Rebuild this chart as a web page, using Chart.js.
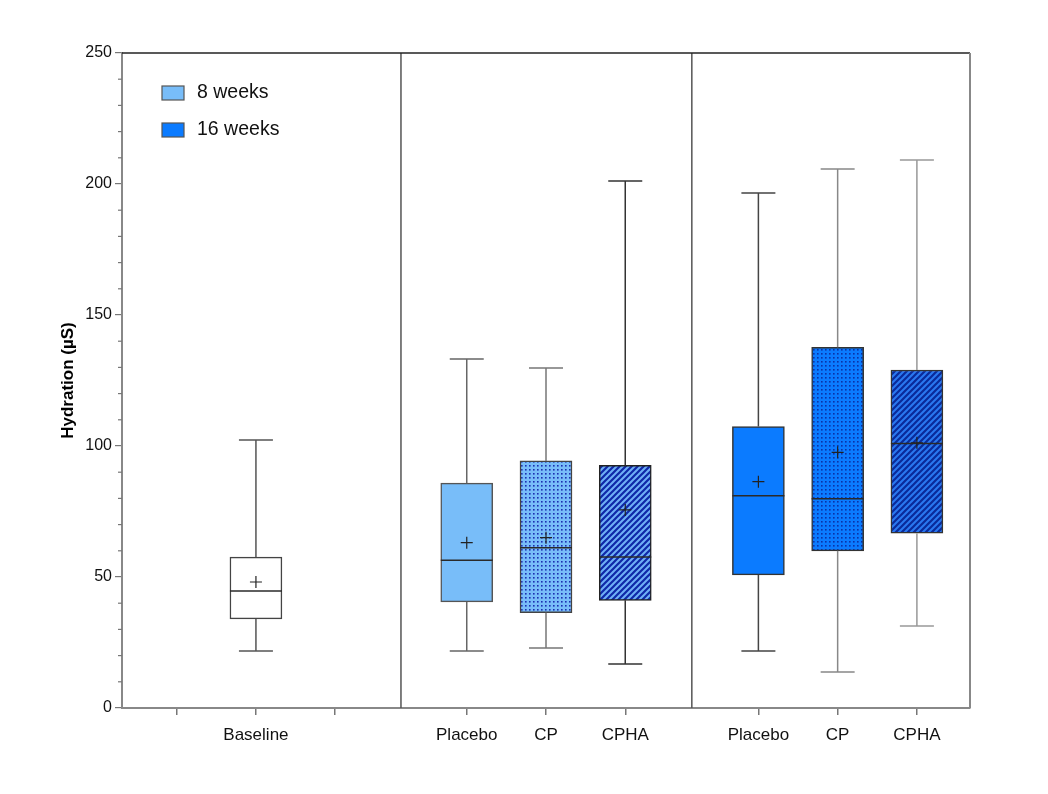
<!DOCTYPE html>
<html>
<head>
<meta charset="utf-8">
<script src="https://cdn.jsdelivr.net/npm/chart.js@4.4.1/dist/chart.umd.min.js"></script>
<style>
  body { margin: 0; background: #fff; }
  #wrap { width: 1048px; height: 794px; position: relative; }
</style>
</head>
<body>
<div id="wrap"><canvas id="myChart"></canvas></div>
<script>
// box plot values (Hydration, µS)
const categories = ['Baseline', 'Placebo', 'CP', 'CPHA', 'Placebo', 'CP', 'CPHA'];
const whiskerMin = [21.8, 21.8, 22.9, 16.8, 21.8, 13.7, 31.3];
const q1Values = [34.0, 40.5, 36.4, 41.1, 50.8, 60.0, 66.7];
const medianValues = [44.7, 56.4, 61.2, 57.6, 81.0, 79.9, 101.0];
const q3Values = [57.6, 85.8, 94.3, 92.6, 107.4, 137.7, 129.0];
const whiskerMax = [102.3, 133.2, 129.8, 201.1, 196.6, 205.7, 209.2];
const meanValues = [48.1, 63.1, 65.0, 75.6, 86.4, 97.6, 101.2];
const seriesNames = ['8 weeks', '16 weeks'];
const yTicks = [0, 50, 100, 150, 200, 250];

// layout on the x axis (axis units)
const boxX = [1.69, 4.35, 5.35, 6.35, 8.03, 9.03, 10.03];
const extraTicks = [0.69, 2.69];
const dividers = [3.52, 7.19];

const light = '#78bdf9';
const dark = '#0b7bff';

function makeDots(bg, dot) {
    const c = document.createElement('canvas');
    c.width = 4; c.height = 4;
    const g = c.getContext('2d');
    g.fillStyle = bg; g.fillRect(0, 0, 4, 4);
    g.fillStyle = dot; g.fillRect(1, 1, 1.6, 1.6);
    return g.createPattern(c, 'repeat');
}

function makeHatch(bg, line) {
    const s = 6;
    const c = document.createElement('canvas');
    c.width = s; c.height = s;
    const g = c.getContext('2d');
    g.fillStyle = bg; g.fillRect(0, 0, s, s);
    g.strokeStyle = line; g.lineWidth = 2.2;
    g.beginPath();
    g.moveTo(0, s); g.lineTo(s, 0);
    g.moveTo(-1, 1); g.lineTo(1, -1);
    g.moveTo(s - 1, s + 1); g.lineTo(s + 1, s - 1);
    g.stroke();
    return g.createPattern(c, 'repeat');
}

const fills = [
    '#ffffff',
    light,
    makeDots(light, '#1c2fb0'),
    makeHatch('#6fb0f6', '#0f28a8'),
    dark,
    makeDots(dark, '#0a32a8'),
    makeHatch('#2a78f0', '#0a2a9a')
];
const borderColors = ['#444', '#555', '#444', '#222', '#333', '#333', '#333'];
const whiskerColors = ['#555', '#666', '#777', '#333', '#444', '#888', '#999'];

const boxPlotPlugin = {
    id: 'boxPlot',
    afterDatasetsDraw(chart) {
        const ctx = chart.ctx;
        const xs = chart.scales.x, ys = chart.scales.y;
        const area = chart.chartArea;
        ctx.save();

        boxX.forEach((xv, i) => {
            const x = xs.getPixelForValue(xv);
            const half = 26, cap = 17;
            // whiskers
            ctx.strokeStyle = whiskerColors[i];
            ctx.lineWidth = 1.5;
            ctx.beginPath();
            ctx.moveTo(x, ys.getPixelForValue(q3Values[i]));
            ctx.lineTo(x, ys.getPixelForValue(whiskerMax[i]));
            ctx.moveTo(x, ys.getPixelForValue(q1Values[i]));
            ctx.lineTo(x, ys.getPixelForValue(whiskerMin[i]));
            ctx.moveTo(x - cap, ys.getPixelForValue(whiskerMax[i]));
            ctx.lineTo(x + cap, ys.getPixelForValue(whiskerMax[i]));
            ctx.moveTo(x - cap, ys.getPixelForValue(whiskerMin[i]));
            ctx.lineTo(x + cap, ys.getPixelForValue(whiskerMin[i]));
            ctx.stroke();
            // median
            ctx.strokeStyle = '#2a2a2a';
            ctx.lineWidth = 1.5;
            const my = ys.getPixelForValue(medianValues[i]);
            ctx.beginPath();
            ctx.moveTo(x - half, my);
            ctx.lineTo(x + half, my);
            ctx.stroke();
            // mean marker
            const mY = ys.getPixelForValue(meanValues[i]);
            ctx.strokeStyle = '#222';
            ctx.lineWidth = 1.2;
            ctx.beginPath();
            ctx.moveTo(x - 6, mY); ctx.lineTo(x + 6, mY);
            ctx.moveTo(x, mY - 6); ctx.lineTo(x, mY + 6);
            ctx.stroke();
        });

        // panel dividers
        ctx.strokeStyle = '#555';
        ctx.lineWidth = 1.5;
        dividers.forEach(d => {
            const x = xs.getPixelForValue(d);
            ctx.beginPath();
            ctx.moveTo(x, area.top);
            ctx.lineTo(x, area.bottom);
            ctx.stroke();
        });

        // top and right frame
        ctx.strokeStyle = '#222';
        ctx.beginPath();
        ctx.moveTo(area.left, area.top);
        ctx.lineTo(area.right, area.top);
        ctx.stroke();
        ctx.strokeStyle = '#888';
        ctx.lineWidth = 2;
        ctx.beginPath();
        ctx.moveTo(area.right, area.top);
        ctx.lineTo(area.right, area.bottom);
        ctx.stroke();

        // minor ticks on y
        ctx.strokeStyle = '#777';
        ctx.lineWidth = 1.2;
        for (let v = 10; v < 250; v += 10) {
            if (v % 50 === 0) continue;
            const y = ys.getPixelForValue(v);
            ctx.beginPath();
            ctx.moveTo(area.left - 4, y);
            ctx.lineTo(area.left, y);
            ctx.stroke();
        }

        // legend
        const legendFills = [light, dark];
        ctx.font = '19.5px "Liberation Sans", Arial, sans-serif';
        ctx.textBaseline = 'middle';
        seriesNames.forEach((name, i) => {
            const top = 86 + i * 37;
            ctx.fillStyle = legendFills[i];
            ctx.fillRect(162, top, 22, 14);
            ctx.strokeStyle = '#555';
            ctx.lineWidth = 1.2;
            ctx.strokeRect(162, top, 22, 14);
            ctx.fillStyle = '#111';
            ctx.fillText(name, 197, top + 7);
        });

        ctx.restore();
    }
};

const ctx = document.getElementById('myChart').getContext('2d');
new Chart(ctx, {
    type: 'bar',
    data: {
        datasets: [{
            label: 'Hydration',
            data: boxX.map((xv, i) => ({ x: xv, y: [q1Values[i], q3Values[i]] })),
            backgroundColor: fills,
            borderColor: borderColors,
            borderWidth: 1.5,
            borderSkipped: false,
            barThickness: 52
        }]
    },
    options: {
        responsive: true,
        maintainAspectRatio: false,
        animation: false,
        layout: { padding: { left: 0, right: 78, top: 53, bottom: 0 } },
        plugins: { legend: { display: false }, tooltip: { enabled: false } },
        scales: {
            x: {
                type: 'linear',
                min: 0,
                max: 10.7,
                offset: false,
                afterBuildTicks: scale => {
                    scale.ticks = [...extraTicks, ...boxX].sort((a, b) => a - b).map(v => ({ value: v }));
                },
                afterFit: scale => { scale.height = 86; },
                ticks: {
                    autoSkip: false,
                    maxRotation: 0,
                    padding: 10,
                    color: '#111',
                    font: { family: '"Liberation Sans", Arial, sans-serif', size: 17 },
                    callback: value => {
                        const i = boxX.findIndex(b => Math.abs(b - value) < 0.01);
                        return i >= 0 ? categories[i] : '';
                    }
                },
                grid: { offset: false, drawOnChartArea: false, tickLength: 7, color: '#777', lineWidth: 1.5 },
                border: { color: '#888', width: 2 }
            },
            y: {
                min: 0,
                max: 250,
                afterBuildTicks: scale => { scale.ticks = yTicks.map(v => ({ value: v })); },
                afterFit: scale => { scale.width = 122; },
                ticks: {
                    padding: 3,
                    color: '#111',
                    font: { family: '"Liberation Sans", Arial, sans-serif', size: 16 }
                },
                grid: { drawOnChartArea: false, tickLength: 7, color: '#777', lineWidth: 1.2 },
                border: { color: '#888', width: 2 },
                title: {
                    display: true,
                    text: 'Hydration (µS)',
                    color: '#000',
                    padding: { top: 58, bottom: 0 },
                    font: { family: '"Liberation Sans", Arial, sans-serif', size: 17, weight: 'bold' }
                }
            }
        }
    },
    plugins: [boxPlotPlugin]
});
</script>
</body>
</html>
